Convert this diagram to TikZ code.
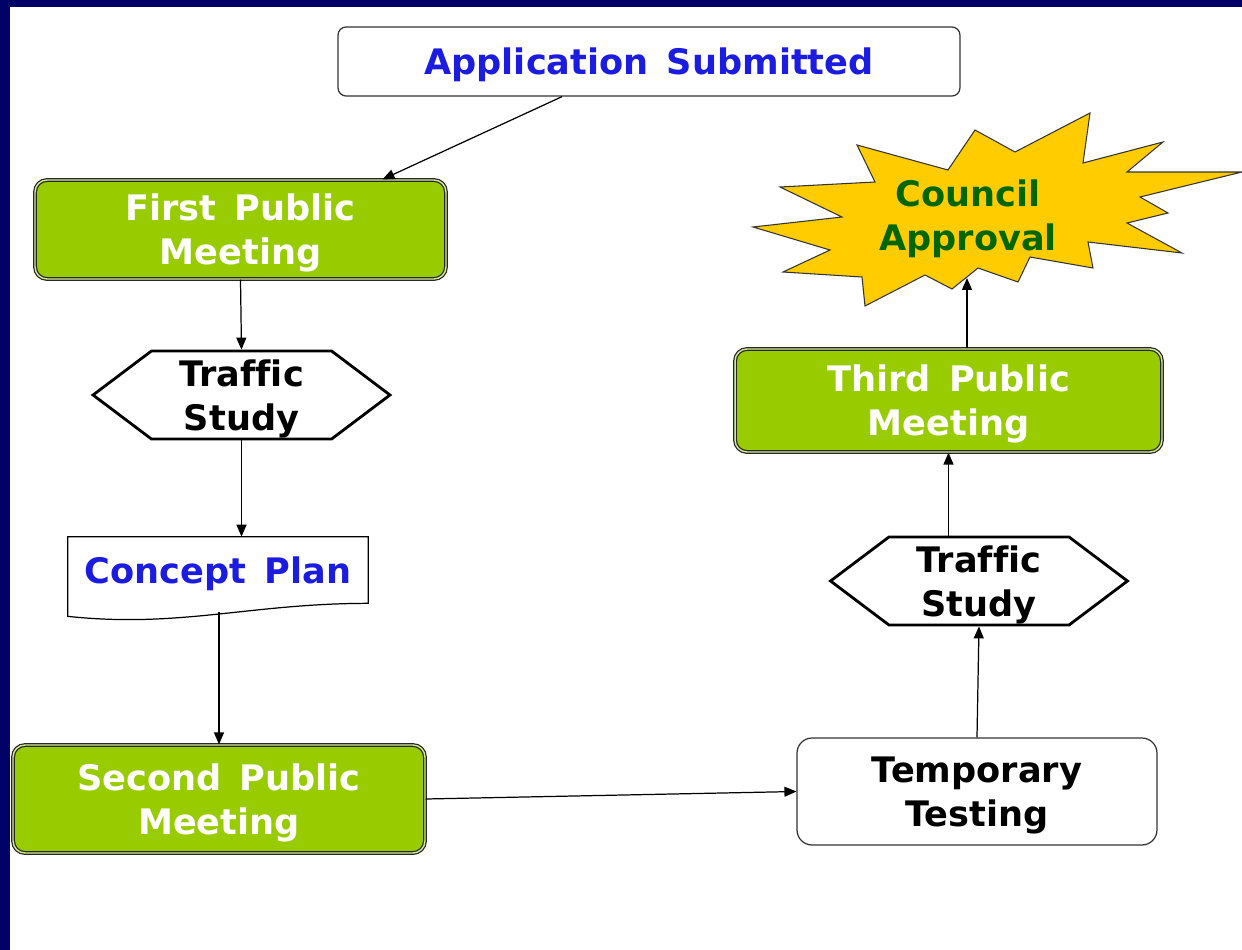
\documentclass[tikz,border=0pt]{standalone}
\usepackage{fontspec}
\setmainfont{DejaVu Sans}[WordSpace=1.5, Ligatures=NoCommon]
\usetikzlibrary{shapes.symbols,arrows.meta,calc}

\definecolor{navyedge}{RGB}{0,0,102}
\definecolor{leafgreen}{RGB}{153,204,0}
\definecolor{titleblue}{RGB}{28,28,224}
\definecolor{burstgold}{RGB}{255,204,0}
\definecolor{darkleaf}{RGB}{0,102,0}

\begin{document}
\begin{tikzpicture}[x=0.02cm, y=-0.02cm,
    every node/.style={font=\fontsize{20}{25}\selectfont\bfseries, align=center, text depth=0pt},
    flow/.style={-{Triangle[length=2.4mm,width=2mm]}, line width=0.7pt},
    meeting/.style={draw=black!85, double=white!60!leafgreen, double distance=0.8pt,
        line width=0.7pt, fill=leafgreen, rounded corners=0.24cm, text=white},
    plainbox/.style={draw=black!80, line width=0.7pt, fill=white},
    studybox/.style={signal, signal to=east and west, signal pointer angle=74,
        draw, line width=1.6pt, minimum width=5.94cm, minimum height=1.76cm, inner sep=0pt}]

    % Frame
    \fill[navyedge] (0,0) rectangle (1242,950);
    \fill[white] (10,7) rectangle (1242,950);
    \useasboundingbox (0,0) rectangle (1242,950);

    % Left column
    \node[plainbox, rounded corners=0.16cm, minimum width=12.44cm, minimum height=1.38cm,
        text=titleblue] (app) at (649,61.5) {Application Submitted};
    \node[meeting, minimum width=8.22cm, minimum height=1.98cm] (first) at (240.5,229.5) {First Public\\Meeting};
    \node[studybox] (ts1) at (241.5,395) {Traffic\\Study};

    % Concept plan (document shape)
    \node[minimum width=6cm, minimum height=1.32cm, text=titleblue] (concept) at (218,570) {Concept Plan};
    \draw[line width=0.7pt] (concept.north west) -- (concept.north east) -- (concept.south east)
        .. controls +(-118,0) and +(112,12) .. ($(concept.south west)+(0,13)$) -- cycle;
    \coordinate (cpb) at ($(concept.south)+(1,9)$);

    \node[meeting, minimum width=8.24cm, minimum height=2.16cm] (second) at (219,799) {Second Public\\Meeting};

    % Right column
    \node[plainbox, rounded corners=0.3cm, minimum width=7.2cm, minimum height=2.14cm] (temp) at (977,791.5) {Temporary\\Testing};
    \node[studybox] (ts2) at (979,581) {Traffic\\Study};
    \node[meeting, minimum width=8.54cm, minimum height=2.06cm] (third) at (948.5,400.5) {Third Public\\Meeting};

    % Council approval burst
    \draw[fill=burstgold, draw=black!80, line width=0.6pt] (753,227) -- (842,217) -- (780,187) -- (875,182)
        -- (857,145) -- (948,170) -- (975,130) -- (1015,152) -- (1090,113) -- (1083,163) -- (1163,142)
        -- (1127,172) -- (1242,172) -- (1140,197) -- (1168,213) -- (1127,223) -- (1182,253) -- (1088,242)
        -- (1093,268) -- (1030,257) -- (1018,282) -- (978,268) -- (952,289) -- (925,275) -- (865,306)
        -- (862,277) -- (783,272) -- (830,250) -- cycle;
    \node[text=darkleaf] (council) at (968,215) {Council\\Approval};
    \coordinate (cab) at (967,278);

    % Connectors
    \draw[flow] (app.202) -- ($(first.north)+(142,0)$);
    \draw[flow] (first.south) -- (ts1.north);
    \draw[flow] (ts1.south) -- (ts1.south |- concept.north);
    \draw[flow] (cpb) -- (second.north);
    \draw[flow] (second.east) -- (temp.west);
    \draw[flow] (temp.north) -- (ts2.south);
    \draw[flow] (third.south |- ts2.north) -- (third.south);
    \draw[flow] (third.north -| cab) -- (cab);

\end{tikzpicture}
\end{document}
